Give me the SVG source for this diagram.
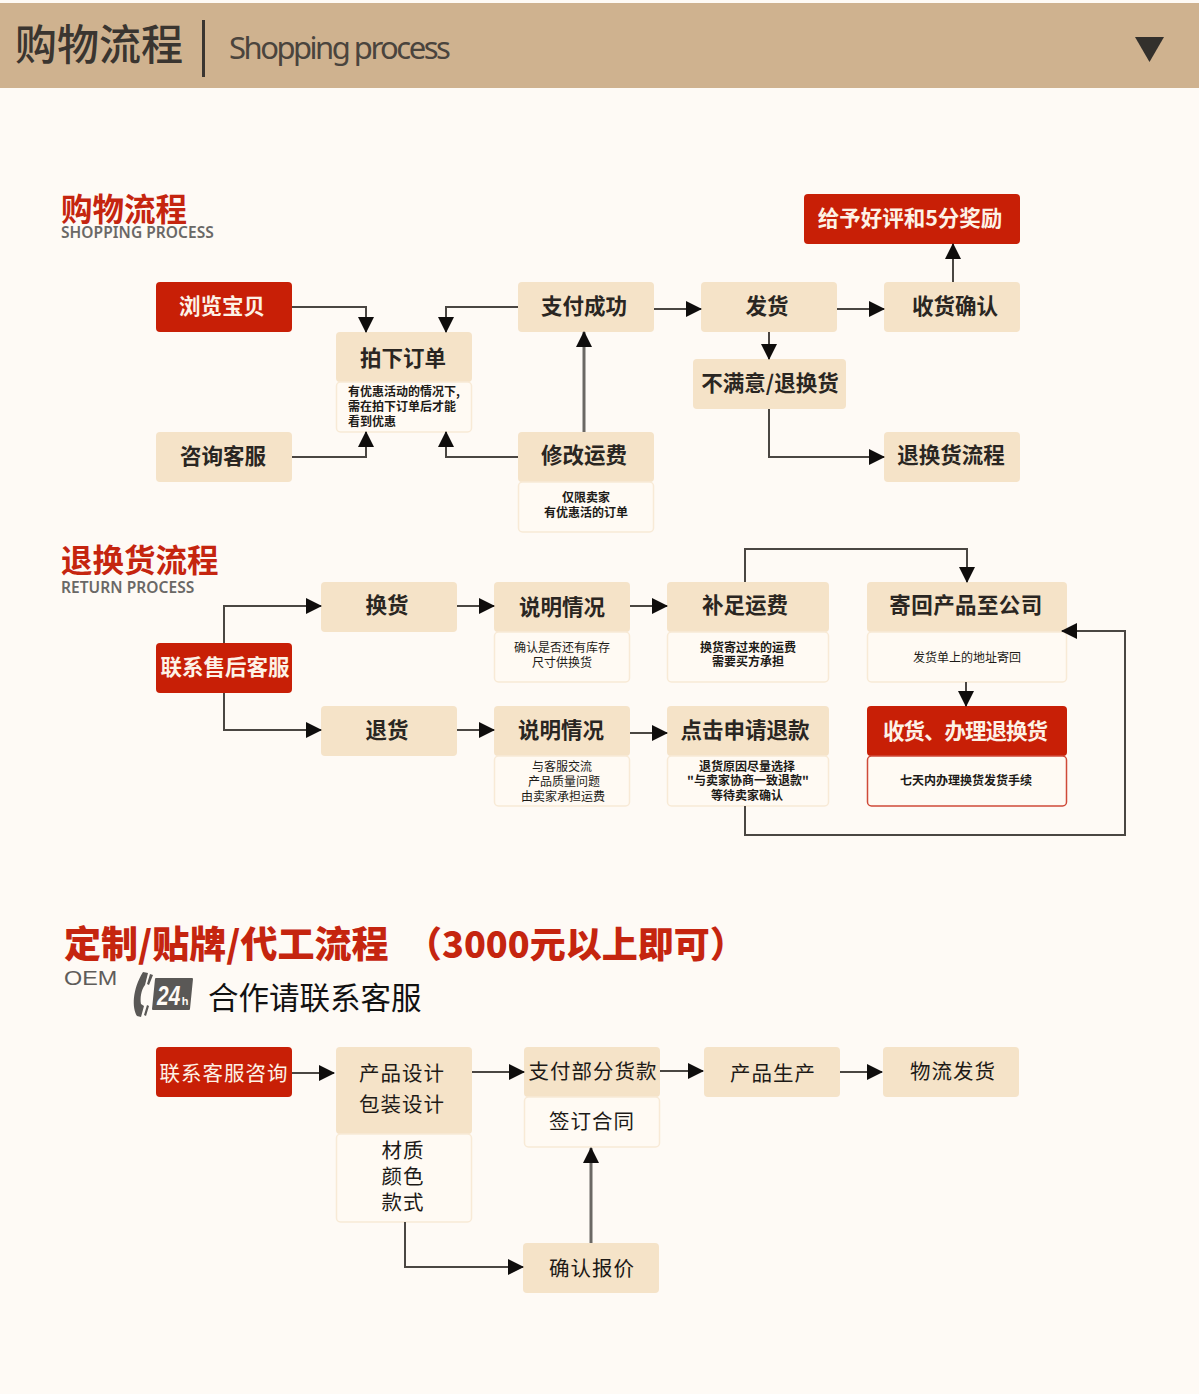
<svg xmlns="http://www.w3.org/2000/svg" width="1199" height="1394" viewBox="0 0 1199 1394">
<style>
text{font-family:"Noto Sans CJK SC","Noto Sans",sans-serif;text-anchor:middle;fill:#1d1a17}
.b{fill:#f5e3c8}
.r{fill:#c81f06}
.w{fill:#fffaf3;stroke:#f8ead6;stroke-width:1.5}
.t{font-size:21.5px;font-weight:700;fill:#2a2622}
.tw{font-size:21.5px;font-weight:700;fill:#fdf2e6}
.o{font-size:20.5px;font-weight:400;fill:#1d1a17;letter-spacing:1px}
.s{font-size:12px;font-weight:700;fill:#1d1a17}
.n{font-size:12px;font-weight:400;fill:#1d1a17}
.h{font-weight:700;fill:#c5250f;text-anchor:start}
.e{font-family:"Noto Sans",sans-serif;font-weight:600;fill:#6a6866;text-anchor:start}
.c{fill:none;stroke:#4a4642;stroke-width:2}
.g{fill:none;stroke:#6b6864;stroke-width:3}
</style>
<defs>
<marker id="a" viewBox="0 0 16 16" refX="15" refY="8" markerWidth="16" markerHeight="16" markerUnits="userSpaceOnUse" orient="auto"><path d="M0 0L16 8L0 16Z" fill="#0f0d0c"/></marker>
</defs>
<rect width="1199" height="1394" fill="#fefaf5"/>
<g id="header">
<rect y="3" width="1199" height="85" fill="#cfb28f"/>
<text x="15" y="60" font-size="42" font-weight="500" style="text-anchor:start;fill:#3a3530">购物流程</text>
<rect x="202" y="20" width="3" height="57" fill="#3a3530"/>
<text x="229" y="59" font-size="31" style="text-anchor:start;fill:#4a443d;letter-spacing:-2.5px;font-family:'Noto Sans',sans-serif">Shopping process</text>
<path d="M1135 37H1164L1149.500 62Z" fill="#33302c"/>
</g>
<g id="title-shopping">
<text class="h" x="61" y="221" font-size="31.500">购物流程</text>
<text class="e" x="61" y="238" font-size="15.500" letter-spacing=".05">SHOPPING PROCESS</text>
</g>
<g id="title-return">
<text class="h" x="61" y="572" font-size="31.500">退换货流程</text>
<text class="e" x="61" y="593" font-size="15.500" letter-spacing=".05">RETURN PROCESS</text>
</g>
<g id="title-oem">
<text class="h" x="64" y="958" font-size="37" style="font-weight:900">定制/贴牌/代工流程</text>
<text class="h" x="406" y="958" font-size="36" style="font-weight:900">（3000元以上即可）</text>
<text transform="translate(64 985) scale(1.2 1)" font-size="19.500" style="text-anchor:start;fill:#5f5c5a;font-family:'Liberation Sans',sans-serif">OEM</text>
<path d="M143 972L148 973L145 985C141 990 140 998 141 1004L144 1006L141 1017L137 1016C132 1008 132 990 143 972Z" fill="#5a5856"/>
<path d="M150 974L153 975L149 985L147 984ZM147 1005L149 1006L146 1016L144 1015Z" fill="#5a5856"/>
<path d="M156 979H192L189 1009H153Z" fill="#5a5856" stroke="#5a5856" stroke-width="2" stroke-linejoin="round"/>
<text transform="translate(157 1005) scale(.75 1)" font-size="28" font-weight="700" font-style="italic" style="text-anchor:start;fill:#fefaf5;font-family:'Liberation Sans',sans-serif">24</text>
<text x="185" y="1005" font-size="11" font-weight="700" style="fill:#fefaf5;font-family:'Liberation Sans',sans-serif">h</text>
<text x="208" y="1009" font-size="30.500" style="text-anchor:start;fill:#111">合作请联系客服</text>
</g>
<g id="n1"><rect class="r" x="156" y="282" width="136" height="50" rx="4"/><text class="tw" x="222" y="314">浏览宝贝</text></g>
<g id="n2"><rect class="b" x="336" y="332" width="136" height="50" rx="4"/><text class="t" x="403" y="366">拍下订单</text>
<rect class="w" x="336.500" y="382" width="135" height="50" rx="4"/>
<text class="s" x="348" y="396" style="text-anchor:start">有优惠活动的情况下,</text><text class="s" x="348" y="411" style="text-anchor:start">需在拍下订单后才能</text><text class="s" x="348" y="426" style="text-anchor:start">看到优惠</text></g>
<g id="n3"><rect class="b" x="156" y="432" width="136" height="50" rx="4"/><text class="t" x="223" y="464">咨询客服</text></g>
<g id="n4"><rect class="b" x="518" y="282" width="136" height="50" rx="4"/><text class="t" x="584" y="314">支付成功</text></g>
<g id="n5"><rect class="b" x="518" y="432" width="136" height="50" rx="4"/><text class="t" x="584" y="463">修改运费</text>
<rect class="w" x="518.500" y="482" width="135" height="50" rx="4"/>
<text class="s" x="586" y="502">仅限卖家</text><text class="s" x="586" y="517">有优惠活的订单</text></g>
<g id="n6"><rect class="b" x="701" y="282" width="136" height="50" rx="4"/><text class="t" x="767" y="314">发货</text></g>
<g id="n7"><rect class="b" x="884" y="282" width="136" height="50" rx="4"/><text class="t" x="955" y="314">收货确认</text></g>
<g id="n8"><rect class="r" x="804" y="194" width="216" height="50" rx="4"/><text class="tw" x="910" y="226">给予好评和5分奖励</text></g>
<g id="n9"><rect class="b" x="693" y="359" width="153" height="50" rx="4"/><text class="t" x="770" y="391">不满意/退换货</text></g>
<g id="n10"><rect class="b" x="884" y="432" width="136" height="50" rx="4"/><text class="t" x="951" y="463">退换货流程</text></g>
<g id="r1"><rect class="r" x="156" y="643" width="136" height="50" rx="4"/><text class="tw" x="225" y="675">联系售后客服</text></g>
<g id="r2"><rect class="b" x="321" y="582" width="136" height="50" rx="4"/><text class="t" x="387" y="613">换货</text></g>
<g id="r3"><rect class="b" x="321" y="706" width="136" height="50" rx="4"/><text class="t" x="387" y="738">退货</text></g>
<g id="r4"><rect class="b" x="494" y="582" width="136" height="50" rx="4"/><text class="t" x="562" y="615">说明情况</text>
<rect class="w" x="494.500" y="632" width="135" height="50" rx="4"/>
<text class="n" x="562" y="652">确认是否还有库存</text><text class="n" x="562" y="667">尺寸供换货</text></g>
<g id="r5"><rect class="b" x="667" y="582" width="162" height="50" rx="4"/><text class="t" x="745" y="613">补足运费</text>
<rect class="w" x="667.500" y="632" width="161" height="50" rx="4"/>
<text class="s" x="748" y="652">换货寄过来的运费</text><text class="s" x="748" y="666">需要买方承担</text></g>
<g id="r6"><rect class="b" x="867" y="582" width="200" height="50" rx="4"/><text class="t" x="966" y="613" style="letter-spacing:.4px">寄回产品至公司</text>
<rect class="w" x="867.500" y="632" width="199" height="50" rx="4"/>
<text class="n" x="967" y="662">发货单上的地址寄回</text></g>
<g id="r7"><rect class="b" x="494" y="706" width="136" height="50" rx="4"/><text class="t" x="561" y="738">说明情况</text>
<rect class="w" x="494.500" y="756" width="135" height="50" rx="4"/>
<text class="n" x="562" y="771">与客服交流</text><text class="n" x="564" y="786">产品质量问题</text><text class="n" x="563" y="801">由卖家承担运费</text></g>
<g id="r8"><rect class="b" x="667" y="706" width="162" height="50" rx="4"/><text class="t" x="745" y="738">点击申请退款</text>
<rect class="w" x="667.500" y="756" width="161" height="50" rx="4"/>
<text class="s" x="747" y="771">退货原因尽量选择</text><text class="s" x="748" y="785">"与卖家协商一致退款"</text><text class="s" x="747" y="800">等待卖家确认</text></g>
<g id="r9"><rect class="r" x="867" y="706" width="200" height="50" rx="4"/><text class="tw" x="965" y="739" style="letter-spacing:-1px">收货、办理退换货</text>
<rect x="867.500" y="756" width="199" height="50" rx="4" fill="#fffaf3" stroke="#cf4a38" stroke-width="1.500"/>
<text class="s" x="966" y="785">七天内办理换货发货手续</text></g>
<g id="o1"><rect class="r" x="156" y="1047" width="136" height="50" rx="4"/><text class="o" x="224" y="1081" style="fill:#fdf2e6">联系客服咨询</text></g>
<g id="o2"><rect class="b" x="336" y="1047" width="136" height="87" rx="4"/><text class="o" x="402" y="1081">产品设计</text><text class="o" x="402" y="1112">包装设计</text>
<rect class="w" x="336.500" y="1134" width="135" height="88" rx="4"/>
<text class="o" x="403" y="1158">材质</text><text class="o" x="403" y="1184">颜色</text><text class="o" x="403" y="1210">款式</text></g>
<g id="o3"><rect class="b" x="524" y="1047" width="136" height="50" rx="4"/><text class="o" x="593" y="1079">支付部分货款</text>
<rect class="w" x="524.500" y="1097" width="135" height="50" rx="4"/><text class="o" x="592" y="1129">签订合同</text></g>
<g id="o4"><rect class="b" x="704" y="1047" width="136" height="50" rx="4"/><text class="o" x="773" y="1081">产品生产</text></g>
<g id="o5"><rect class="b" x="883" y="1047" width="136" height="50" rx="4"/><text class="o" x="953" y="1079">物流发货</text></g>
<g id="o6"><rect class="b" x="523" y="1243" width="136" height="50" rx="4"/><text class="o" x="592" y="1276">确认报价</text></g>
<g id="connectors">
<path class="c" marker-end="url(#a)" d="M292 307H366V332"/>
<path class="c" marker-end="url(#a)" d="M518 307H446V332"/>
<path class="c" marker-end="url(#a)" d="M292 457H366V432"/>
<path class="c" marker-end="url(#a)" d="M518 457H446V432"/>
<path class="g" marker-end="url(#a)" d="M584 432V332"/>
<path class="c" marker-end="url(#a)" d="M654 309H701"/>
<path class="c" marker-end="url(#a)" d="M837 309H884"/>
<path class="c" marker-end="url(#a)" d="M769 332V359"/>
<path class="c" marker-end="url(#a)" d="M953 282V244"/>
<path class="c" marker-end="url(#a)" d="M769 409V457H884"/>
<path class="c" marker-end="url(#a)" d="M224 643V606H321"/>
<path class="c" marker-end="url(#a)" d="M224 693V730H321"/>
<path class="c" marker-end="url(#a)" d="M457 606H494"/>
<path class="c" marker-end="url(#a)" d="M457 730H494"/>
<path class="c" marker-end="url(#a)" d="M630 606H667"/>
<path class="c" marker-end="url(#a)" d="M630 733H667"/>
<path class="c" marker-end="url(#a)" d="M745 582V549H967V582"/>
<path class="c" marker-end="url(#a)" d="M966 682V706"/>
<path class="c" marker-end="url(#a)" d="M745 806V835H1125V631H1062"/>
<path class="c" marker-end="url(#a)" d="M292 1073H334"/>
<path class="c" marker-end="url(#a)" d="M472 1072H524"/>
<path class="c" marker-end="url(#a)" d="M660 1071H703"/>
<path class="c" marker-end="url(#a)" d="M840 1072H882"/>
<path class="c" marker-end="url(#a)" d="M405 1222V1267H523"/>
<path class="g" marker-end="url(#a)" d="M591 1243V1148"/>
</g>
</svg>
